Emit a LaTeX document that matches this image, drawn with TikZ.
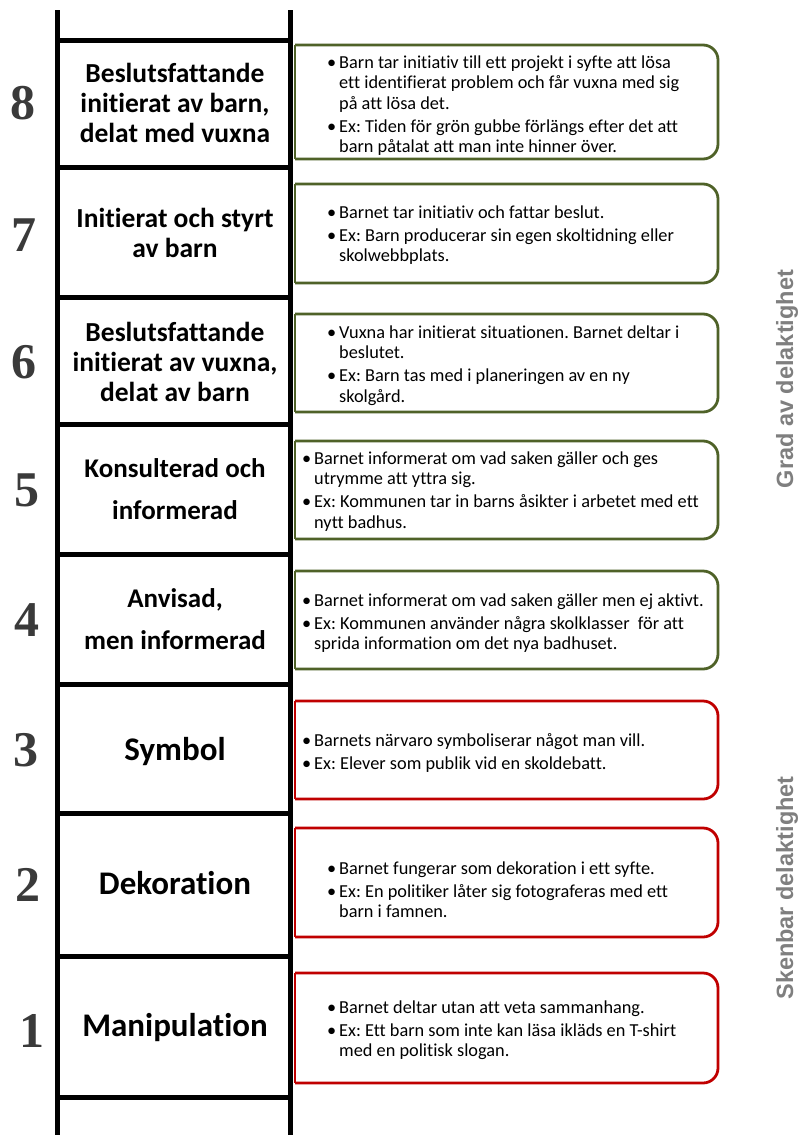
\documentclass[tikz,border=0pt]{standalone}
\usepackage{fontspec}
\setmainfont{Carlito}[Ligatures=NoCommon]
\newfontfamily\numfont{Liberation Serif}
\newfontfamily\sidefont{Liberation Sans}
\definecolor{boxgreen}{HTML}{4F6228}
\definecolor{boxred}{HTML}{C00000}
\definecolor{sidegray}{HTML}{7F7F7F}
\definecolor{numfill}{HTML}{3A3A3A}
\frenchspacing
\newcommand\bul{\makebox[12pt][l]{•}}
\newcommand\ind{\hspace*{12pt}}
\newcommand\desc[1]{\parbox[t]{420pt}{\frenchspacing\fontsize{18.3}{20.5}\selectfont #1}}
\tikzset{
  rail/.style={line width=5pt, black},
  rung/.style={line width=5pt, black},
  greenbox/.style={draw=boxgreen, line width=2.8pt, rounded corners=15pt},
  redbox/.style={draw=boxred, line width=2.8pt, rounded corners=15pt},
  lbl/.style={inner sep=0pt, align=center, font=\bfseries\fontsize{27.5}{30}\selectfont},
  lblwide/.style={inner sep=0pt, align=center, font=\bfseries\fontsize{27}{42}\selectfont},
  lblbig/.style={inner sep=0pt, align=center, font=\bfseries\fontsize{33}{38}\selectfont},
  dsc/.style={inner sep=0pt, anchor=base west},
  numm/.style={inner sep=0pt, font=\numfont\bfseries\fontsize{50}{50}\selectfont, text=numfill},
  side/.style={inner sep=0pt, rotate=90, text=sidegray, font=\sidefont\bfseries\fontsize{23.5}{28}\selectfont}
}
\begin{document}
\begin{tikzpicture}[x=1pt,y=-1pt]
\useasboundingbox (0,0) rectangle (800,1135);
\fill[white] (0,0) rectangle (800,1135);
% ladder
\draw[rail] (57.5,10) -- (57.5,1135);
\draw[rail] (290,10) -- (290,1135);
\foreach \y in {40,167,297,424,554,684,813,956,1097}
  \draw[rung] (57.5,\y) -- (290,\y);
% boxes
\draw[greenbox] (295,45) -- (718,45) -- (718,159) -- (295,159);
\draw[greenbox] (295,184) -- (718,184) -- (718,283) -- (295,283);
\draw[greenbox] (295,314) -- (718,314) -- (718,412) -- (295,412);
\draw[greenbox] (295,441) -- (718,441) -- (718,539) -- (295,539);
\draw[greenbox] (295,571) -- (718,571) -- (718,669) -- (295,669);
\draw[redbox] (295,701) -- (718,701) -- (718,799) -- (295,799);
\draw[redbox] (295,828) -- (718,828) -- (718,937) -- (295,937);
\draw[redbox] (295,973) -- (718,973) -- (718,1083) -- (295,1083);
\foreach \a/\b in {45/159,184/283,314/412,441/539,571/669}
  \draw[boxgreen, line width=2.8pt] (295,\a) -- (295,\b);
\foreach \a/\b in {701/799,828/937,973/1083}
  \draw[boxred, line width=2.8pt] (295,\a) -- (295,\b);
% numbers
\node[numm] (n8) at (22.5,103) {8};
\node[numm] (n7) at (24,235) {7};
\node[numm] (n6) at (24,362) {6};
\node[numm] (n5) at (26.5,490) {5};
\node[numm] (n4) at (26.5,620) {4};
\node[numm] (n3) at (25.5,750) {3};
\node[numm] (n2) at (27.5,885) {2};
\node[numm] (n1) at (32,1031) {1};
% ladder labels
\node[lbl] (l8) at (175,103) {Beslutsfattande\\initierat av barn,\\delat med vuxna};
\node[lbl] (l7) at (175,233) {Initierat och styrt\\av barn};
\node[lbl] (l6) at (175,362) {Beslutsfattande\\initierat av vuxna,\\delat av barn};
\node[lblwide] (l5) at (175,489) {Konsulterad och\\informerad};
\node[lblwide] (l4) at (175,619) {Anvisad,\\men informerad};
\node[lblbig] (l3) at (175,752) {Symbol};
\node[lblbig] (l2) at (175,883) {Dekoration};
\node[lblbig] (l1) at (175,1028) {Manipulation};
% descriptions
\node[dsc] (d8) at (327,68) {\desc{\bul Barn tar initiativ till ett projekt i syfte att lösa\\
\ind ett identifierat problem och får vuxna med sig\\
\ind på att lösa det.\\[2.5pt]
\bul Ex: Tiden för grön gubbe förlängs efter det att\\
\ind barn påtalat att man inte hinner över.}};
\node[dsc] (d7) at (327,218) {\desc{\bul Barnet tar initiativ och fattar beslut.\\[2.5pt]
\bul Ex: Barn producerar sin egen skoltidning eller\\
\ind skolwebbplats.}};
\node[dsc] (d6) at (327,338) {\desc{\bul Vuxna har initierat situationen. Barnet deltar i\\
\ind beslutet.\\[2.5pt]
\bul Ex: Barn tas med i planeringen av en ny\\
\ind skolgård.}};
\node[dsc] (d5) at (302,464) {\desc{\bul Barnet informerat om vad saken gäller och ges\\
\ind utrymme att yttra sig.\\[2.5pt]
\bul Ex: Kommunen tar in barns åsikter i arbetet med ett\\
\ind nytt badhus.}};
\node[dsc] (d4) at (302,606) {\desc{\bul Barnet informerat om vad saken gäller men ej aktivt.\\[2.5pt]
\bul Ex: Kommunen använder några skolklasser\ \ för att\\
\ind sprida information om det nya badhuset.}};
\node[dsc] (d3) at (302,746) {\desc{\bul Barnets närvaro symboliserar något man vill.\\[2.5pt]
\bul Ex: Elever som publik vid en skoldebatt.}};
\node[dsc] (d2) at (327,874) {\desc{\bul Barnet fungerar som dekoration i ett syfte.\\[2.5pt]
\bul Ex: En politiker låter sig fotograferas med ett\\
\ind barn i famnen.}};
\node[dsc] (d1) at (327,1013) {\desc{\bul Barnet deltar utan att veta sammanhang.\\[2.5pt]
\bul Ex: Ett barn som inte kan läsa ikläds en T-shirt\\
\ind med en politisk slogan.}};
% side labels
\node[side] (s1) at (787,379) {Grad av delaktighet};
\node[side] (s2) at (787,888) {Skenbar delaktighet};
\end{tikzpicture}
\end{document}
